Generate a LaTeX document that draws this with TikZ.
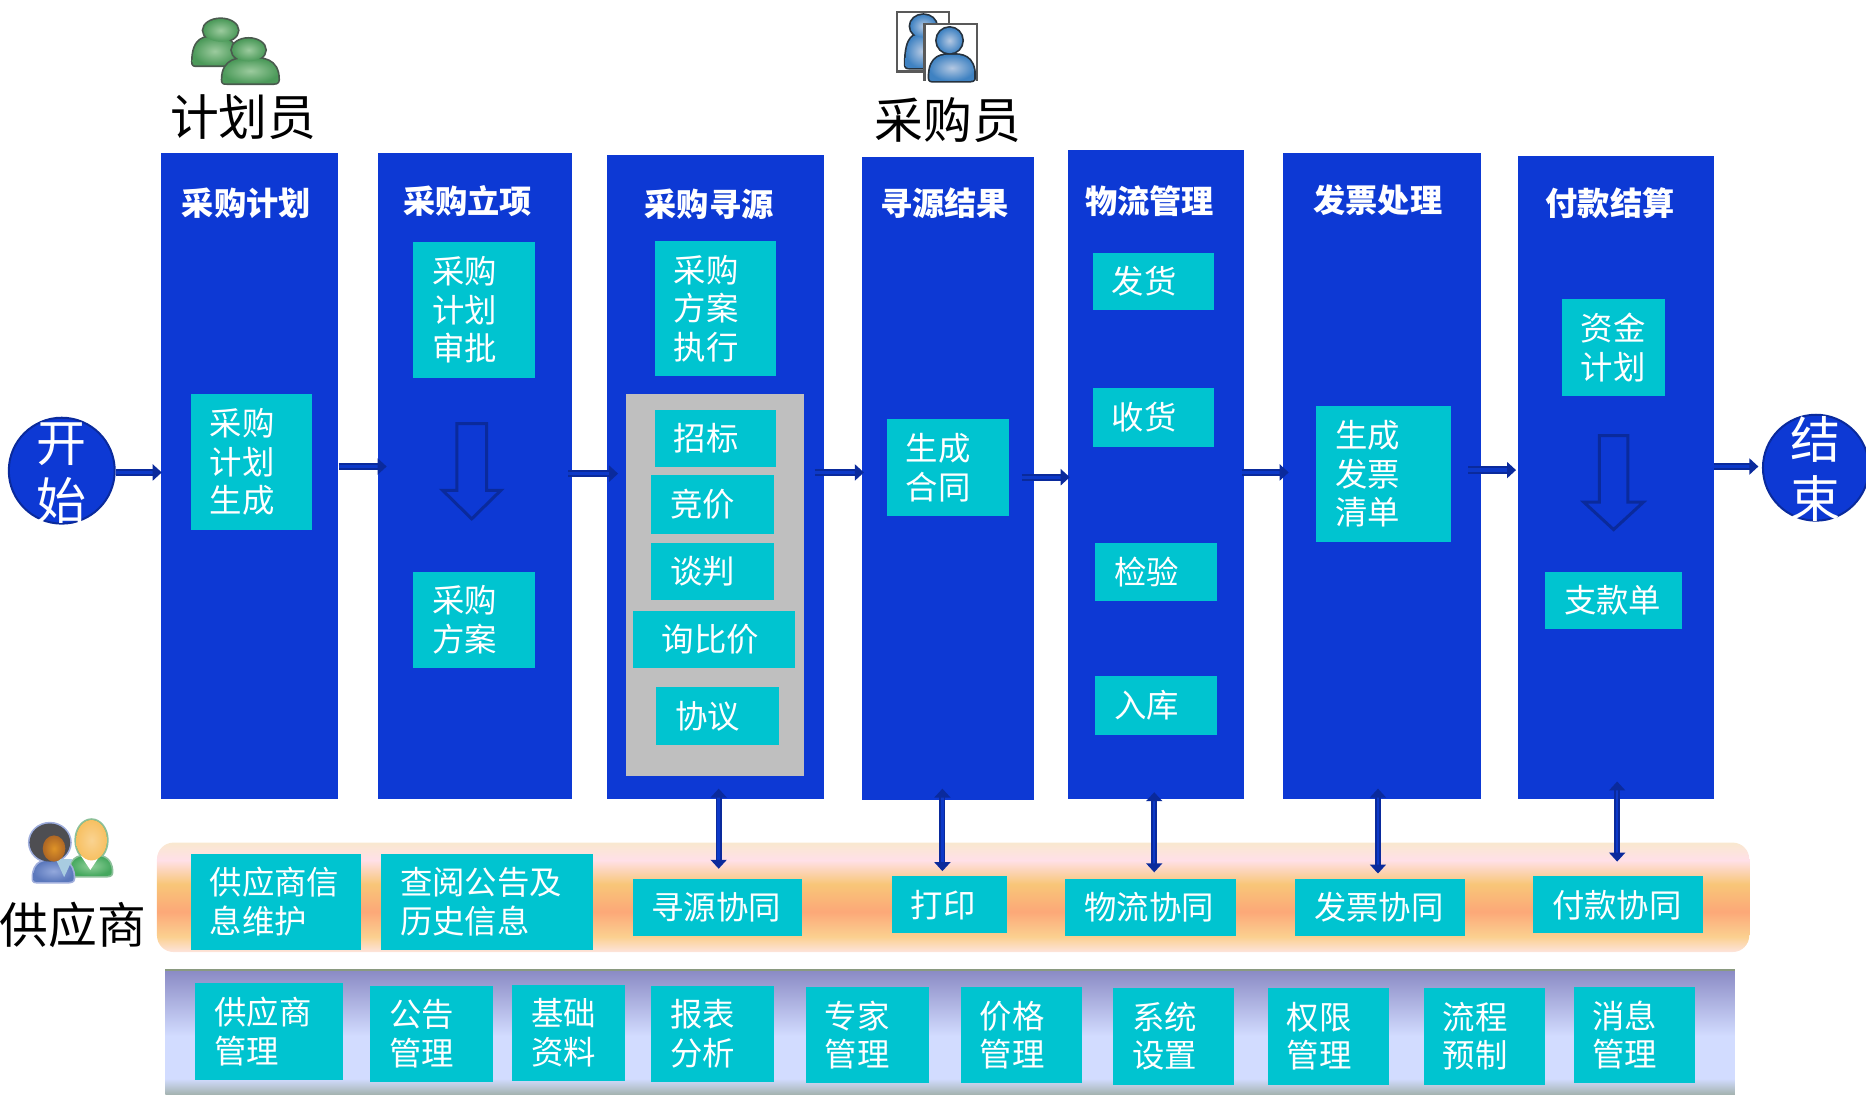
\documentclass[tikz,border=0pt]{standalone}
\usepackage{fontspec}
\setmainfont{Noto Sans CJK SC}
\usetikzlibrary{arrows.meta}
\definecolor{colblue}{HTML}{0D39D4}
\definecolor{tealbox}{HTML}{00C4D0}
\definecolor{grayback}{HTML}{BFBFBF}
\definecolor{darkblue}{HTML}{0A2A9C}
\definecolor{lineblue}{HTML}{0D39C8}
\definecolor{sa}{HTML}{FDE4DC}
\definecolor{sb}{HTML}{FBD090}
\definecolor{sc}{HTML}{FCA878}
\definecolor{sd}{HTML}{F8C678}
\definecolor{se}{HTML}{FFE0E8}
\definecolor{sf}{HTML}{F9E8CF}
\definecolor{ba}{HTML}{A3B2AE}
\definecolor{bb}{HTML}{D2DCFF}
\definecolor{bc}{HTML}{8A8AC4}
\definecolor{bedge}{HTML}{8A9A80}
\definecolor{greenin}{HTML}{9CCB9E}
\definecolor{greenout}{HTML}{4C9A5A}
\definecolor{greenedge}{HTML}{4A5A4E}
\definecolor{bluein}{HTML}{B4C8E2}
\definecolor{blueout}{HTML}{3F82C2}
\definecolor{blueedge}{HTML}{26323E}
\definecolor{manin}{HTML}{8FD09A}
\definecolor{manout}{HTML}{45A85E}
\definecolor{manedge}{HTML}{8CC09A}
\definecolor{womanin}{HTML}{93A8DC}
\definecolor{womanout}{HTML}{5B78BC}
\definecolor{womanedge}{HTML}{A0AEDC}
\definecolor{hairdark}{HTML}{4E4E52}
\definecolor{facedark}{HTML}{D9802E}
\definecolor{facelight}{HTML}{F7C062}
\definecolor{collar}{HTML}{A8CCE0}
\pgfdeclareverticalshading{supplierband}{100bp}{
  color(0bp)=(sa);
  color(25bp)=(sa);
  color(32bp)=(sb);
  color(43.5bp)=(sc);
  color(56bp)=(sd);
  color(67bp)=(se);
  color(75bp)=(sf);
  color(100bp)=(sf)}
\pgfdeclareverticalshading{baseband}{100bp}{
  color(0bp)=(ba);
  color(25bp)=(ba);
  color(31.5bp)=(bb);
  color(48.5bp)=(bb);
  color(75bp)=(bc);
  color(100bp)=(bc)}
\newlength{\uu}\setlength{\uu}{0.595pt}
\tikzset{
  x=\uu,y=-\uu,
  column/.style={fill=colblue,draw=none,anchor=north west,inner sep=0pt},
  headline/.style={text=white,font=\fontsize{16.1}{19}\selectfont\bfseries,inner sep=0pt},
  actor/.style={text=black,font=\fontsize{24.4}{28}\selectfont,inner sep=0pt},
  terminal/.style={circle,fill=colblue,draw=darkblue,line width=1pt,text=white,inner sep=0pt,
     font=\fontsize{25}{28}\selectfont},
  flow/.style={draw=darkblue,line width=1pt,double=lineblue,double distance=1.6pt,
     -{Triangle[length=4.5pt,width=8pt]}},
  sync/.style={draw=darkblue,line width=0.9pt,double=lineblue,double distance=1.2pt,
     {Triangle[length=4.5pt,width=8pt]}-{Triangle[length=4.5pt,width=8pt]}},
  hollow/.style={draw=darkblue,line width=1.5pt,fill=none,line join=miter},
  frameline/.style={draw=black!65,line width=1.3pt},
}
% #1 inset, #2 name, #3 x1, #4 y1, #5 x2, #6 y2, #7 text
\newcommand{\tb}[7][16]{%
  \pgfmathsetlengthmacro{\tbw}{(#5-#3)*\uu}%
  \pgfmathsetlengthmacro{\tbh}{(#6-#4)*\uu}%
  \pgfmathsetlengthmacro{\tbi}{#1*\uu}%
  \node[fill=tealbox,text=white,anchor=north west,inner ysep=0pt,inner xsep=0pt,
        minimum width=\tbw,minimum height=\tbh,
        font=\fontsize{16.2}{19.3}\selectfont] (#2) at (#3,#4)
        {\hspace*{\tbi}\parbox[c]{\dimexpr\tbw-\tbi\relax}{\raggedright #7}};}
\newcommand{\colbox}[5]{%
  \pgfmathsetlengthmacro{\tbw}{(#4-#2)*\uu}%
  \pgfmathsetlengthmacro{\tbh}{(#5-#3)*\uu}%
  \node[column,minimum width=\tbw,minimum height=\tbh] (#1) at (#2,#3) {};}
% flow arrow: from, to, y, overshoot at start, overshoot at end
\newcommand{\flowarrow}[5]{%
  \draw[flow,shorten <={-(#4)*\uu},shorten >={-(#5)*\uu}] (#1.east |- 0,#3) -- (#2.west |- 0,#3);}
% sync arrow: from, to, x, overshoot at start, gap at end
\newcommand{\syncarrow}[5]{%
  \draw[sync,shorten <={-(#4)*\uu},shorten >={(#5)*\uu}] (#1.south -| #3,0) -- (#2.north -| #3,0);}
% person: cx, head cy, head rx, head ry, body x1, body x2, body top, body bottom, inner, outer, edge
\newcommand{\person}[9]{%
  \def\pa{#1}\def\pb{#2}\def\pc{#3}\def\pd{#4}\def\pe{#5}\def\pf{#6}\def\pg{#7}\def\ph{#8}\def\pj{#9}\personrest}
\newcommand{\bodypath}{%
    (\pe,\ph-3) .. controls (\pe,\pg) and (\pmid-0.4*\pw,\pg) .. (\pmid,\pg)
    .. controls (\pmid+0.4*\pw,\pg) and (\pf,\pg) .. (\pf,\ph-3)
    .. controls (\pf,\ph) and (\pf-3,\ph) .. (\pf-4,\ph)
    -- (\pe+4,\ph) .. controls (\pe+1,\ph) and (\pe,\ph) .. (\pe,\ph-3) -- cycle}
\newcommand{\personrest}[2]{%
  \pgfmathsetmacro{\pmid}{(\pe+\pf)/2}%
  \pgfmathsetmacro{\pw}{(\pf-\pe)/2}%
  \draw[#2,line width=1.7pt,line join=round] \bodypath;
  \draw[#2,line width=1.7pt] (\pa,\pb) ellipse [x radius=\pc,y radius=\pd];
  \path[inner color=\pj,outer color=#1] \bodypath;
  \path[inner color=\pj,outer color=#1] (\pa,\pb) ellipse [x radius=\pc,y radius=\pd];}
\begin{document}
\begin{tikzpicture}
\useasboundingbox (0.1,0) rectangle (1568.1,920);
\begin{scope}
\clip (0,0) rectangle (1568.1,920);

% icons
\person{185.5}{25.5}{14.5}{9.5}{162}{199}{31}{55}{greenin}{greenout}{greenedge}
\person{209}{42}{14}{9.5}{187}{234}{49}{70}{greenin}{greenout}{greenedge}

\draw[frameline] (754,10) rectangle (797.5,60);
\person{776}{22}{11}{9.5}{761}{788}{29}{57}{bluein}{blueout}{blueedge}
\path[fill=white] (777,20) rectangle (821,68);
\draw[frameline] (777,68) -- (777,20) -- (821,20) -- (821,68);
\person{798}{34}{10.7}{10.7}{781}{819}{46}{68}{bluein}{blueout}{blueedge}

% supplier icon
\person{77}{706}{13}{17}{59}{94}{719}{736}{manin}{manout}{manedge}
\path[fill=white] (68,719) -- (84,719) -- (76,731) -- cycle;
\path[inner color=facelight!70!white,outer color=facelight] (77,706) ellipse [x radius=13,y radius=17];
\person{42}{708}{17}{16}{28}{62}{723}{741}{womanin}{womanout}{womanedge}
\path[fill=collar] (47,722) -- (61,722) -- (54,737) -- cycle;
\path[fill=hairdark] (42,708) ellipse [x radius=17,y radius=16];
\path[inner color=facedark!85!yellow,outer color=facedark!80!black] (45.5,713) ellipse [x radius=9.5,y radius=11];

% actors
\node[actor] (planner) at (204.5,98.5) {计划员};
\node[actor] (buyer) at (796.5,100.5) {采购员};
\node[actor] (supplier) at (61.5,777) {供应商};

% bands
\path[shading=supplierband,rounded corners=8.3pt] (132,708) rectangle (1470,800);
\path[shading=baseband] (139,815) rectangle (1458,920);
\draw[bedge,line width=0.6pt] (139,815) -- (1458,815);

% columns
\colbox{c1}{135}{128}{284}{671}
\colbox{c2}{317}{128}{480}{671}
\colbox{c3}{510}{130}{692}{671}
\colbox{c4}{724}{132}{869}{672}
\colbox{c5}{897}{126}{1045}{671}
\colbox{c6}{1078}{128}{1244}{671}
\colbox{c7}{1275}{131}{1440}{671}

% headers
\node[headline] (h1) at (207,171) {采购计划};
\node[headline] (h2) at (393,169) {采购立项};
\node[headline] (h3) at (596,172) {采购寻源};
\node[headline] (h4) at (794,171) {寻源结果};
\node[headline] (h5) at (966,169) {物流管理};
\node[headline] (h6) at (1158,168) {发票处理};
\node[headline] (h7) at (1353,171) {付款结算};

% column contents
\tb{a1}{160}{331}{262}{445}{采购\\计划\\生成}
\tb{b1}{347}{203}{449}{317}{采购\\计划\\审批}
\tb{b2}{347}{480}{449}{561}{采购\\方案}
\tb{s1}{550}{202}{652}{316}{采购\\方案\\执行}
\path[fill=grayback] (526,331) rectangle (676,652);
\tb{s2}{550}{344}{652}{392}{招标}
\tb{s3}{547}{399}{650}{448}{竞价}
\tb{s4}{547}{456}{650}{504}{谈判}
\tb[24]{s5}{532}{513}{668}{561}{询比价}
\tb{s6}{551}{577}{654}{626}{协议}
\tb{r1}{745}{352}{848}{433}{生成\\合同}
\tb{l1}{918}{212}{1020}{260}{发货}
\tb{l2}{918}{326}{1020}{375}{收货}
\tb{l3}{920}{456}{1022}{505}{检验}
\tb{l4}{920}{568}{1022}{617}{入库}
\tb{i1}{1106}{341}{1219}{455}{生成\\发票\\清单}
\tb{p1}{1312}{251}{1399}{332}{资金\\计划}
\tb{p2}{1298}{480}{1413}{528}{支款单}

% hollow arrows
\draw[hollow] (384,356) -- (409,356) -- (409,412) -- (421,412) -- (396.5,436) -- (372,412) -- (384,412) -- cycle;
\draw[hollow] (1344,366) -- (1368,366) -- (1368,422) -- (1381,422) -- (1356,445) -- (1331,422) -- (1344,422) -- cycle;

% supplier band boxes
\tb{v1}{160}{717}{303}{798}{供应商信\\息维护}
\tb{v2}{320}{717}{498}{798}{查阅公告及\\历史信息}
\tb[15]{v3}{532}{738}{674}{786}{寻源协同}
\tb{v4}{749}{736}{846}{784}{打印}
\tb{v5}{895}{738}{1038}{786}{物流协同}
\tb{v6}{1088}{738}{1231}{786}{发票协同}
\tb{v7}{1288}{736}{1431}{784}{付款协同}

% base band boxes
\tb{m1}{164}{826}{288}{907}{供应商\\管理}
\tb{m2}{311}{828}{414}{909}{公告\\管理}
\tb{m3}{430}{827}{525}{908}{基础\\资料}
\tb{m4}{547}{828}{650}{909}{报表\\分析}
\tb{m5}{677}{829}{780}{910}{专家\\管理}
\tb{m6}{807}{829}{909}{910}{价格\\管理}
\tb{m7}{935}{830}{1037}{911}{系统\\设置}
\tb{m8}{1065}{830}{1167}{911}{权限\\管理}
\tb{m9}{1196}{830}{1298}{911}{流程\\预制}
\tb{m10}{1322}{829}{1424}{910}{消息\\管理}

% terminals
\pgfmathsetlengthmacro{\tsize}{89*\uu}
\node[terminal,minimum size=\tsize] (start) at (52,395.5) {\smash{\raisebox{-10.5pt}{\fontsize{25}{28}\selectfont\begin{tabular}{@{}c@{}}开\\始\end{tabular}}}};
\node[terminal,minimum size=\tsize] (finish) at (1526,393) {\smash{\raisebox{-10.2pt}{\fontsize{25}{28}\selectfont\begin{tabular}{@{}c@{}}结\\束\end{tabular}}}};

% flow arrows
\flowarrow{start}{c1}{397}{0}{1}
\flowarrow{c1}{c2}{392}{0}{8}
\flowarrow{c2}{c3}{398}{3}{9.5}
\flowarrow{c3}{c4}{397}{8}{2}
\flowarrow{c4}{c5}{401}{11}{2}
\flowarrow{c5}{c6}{397}{2}{5}
\flowarrow{c6}{c7}{395}{11}{-1}
\flowarrow{c7}{finish}{392}{0}{-3}

% sync arrows
\syncarrow{c3}{v3}{604}{9}{8}
\syncarrow{c4}{v4}{792}{10}{4}
\syncarrow{c5}{v5}{970}{6}{5}
\syncarrow{c6}{v6}{1158}{9}{4}
\syncarrow{c7}{v7}{1359}{15}{12}
\end{scope}
\end{tikzpicture}
\end{document}
